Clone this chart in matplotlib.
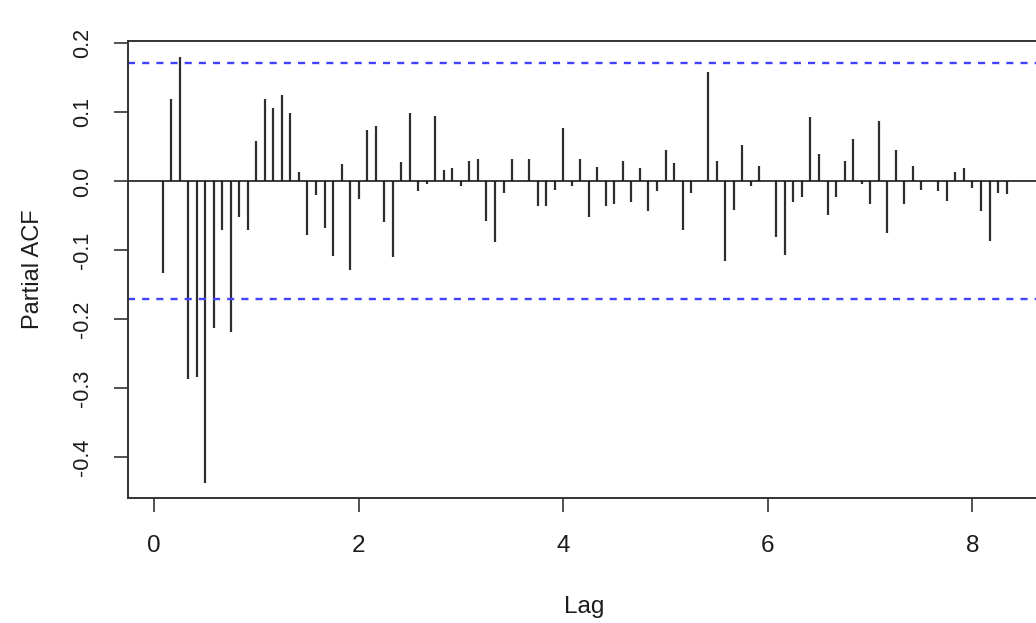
import numpy as np
import matplotlib
matplotlib.use("Agg")
import matplotlib.pyplot as plt

# Partial autocorrelations for lags 1..100 (monthly series, frequency 12)
frequency = 12
pacf_values = [
    -0.133, 0.119, 0.181, -0.286, -0.284, -0.437, -0.212, -0.070, -0.218, -0.051,
    -0.070, 0.059, 0.119, 0.106, 0.125, 0.099, 0.014, -0.078, -0.020, -0.068,
    -0.108, 0.025, -0.128, -0.026, 0.074, 0.080, -0.059, -0.109, 0.028, 0.099,
    -0.014, -0.004, 0.095, 0.016, 0.019, -0.006, 0.030, 0.032, -0.057, -0.088,
    -0.017, 0.032, 0.001, 0.032, -0.035, -0.035, -0.012, 0.077, -0.006, 0.032,
    -0.051, 0.021, -0.035, -0.033, 0.030, -0.030, 0.019, -0.043, -0.014, 0.046,
    0.027, -0.070, -0.017, 0.001, 0.159, 0.030, -0.115, -0.041, 0.053, -0.006,
    0.022, 0.001, -0.080, -0.107, -0.030, -0.022, 0.093, 0.040, -0.049, -0.022,
    0.030, 0.061, -0.004, -0.033, 0.088, -0.075, 0.046, -0.033, 0.022, -0.012,
    0.001, -0.014, -0.028, 0.014, 0.019, -0.009, -0.043, -0.086, -0.017, -0.019,
]
conf_limit = 0.171
x_ticks = [0, 2, 4, 6, 8]
y_ticks = [-0.4, -0.3, -0.2, -0.1, 0.0, 0.1, 0.2]
y_ticklabels = ["-0.4", "-0.3", "-0.2", "-0.1", "0.0", "0.1", "0.2"]

lags = np.arange(1, len(pacf_values) + 1) / frequency

plt.rcParams["font.family"] = ["Liberation Sans", "DejaVu Sans"]
W, H = 1036, 623
fig = plt.figure(figsize=(W / 100, H / 100), dpi=100)
ax = fig.add_axes([128 / W, 1 - 498 / H, 912 / W, 457 / H])

ink = "#1c1c1c"
ax.vlines(lags, 0, pacf_values, colors="#2e2e2e", linewidth=1.6)
ax.axhline(0, color="#1a1a1a", linewidth=1.2)
for c in (conf_limit, -conf_limit):
    ax.axhline(c, color="#4141ff", linewidth=1.7, linestyle=(0, (3.0, 3.0)))

ax.set_xlim(-0.254, 8.66)
ax.set_ylim(-0.459, 0.2035)

ax.set_xticks(x_ticks)
ax.set_xticklabels([str(t) for t in x_ticks])
ax.set_yticks(y_ticks)
ax.set_yticklabels(y_ticklabels, rotation=90, va="center")

ax.tick_params(axis="both", direction="out", length=10, width=1.2, color="#333333",
               labelcolor=ink)
ax.tick_params(axis="y", labelsize=15.5, pad=15)
ax.tick_params(axis="x", labelsize=17.5, pad=17)

for s in ax.spines.values():
    s.set_color("#333333")
    s.set_linewidth(1.4)

ax.set_xlabel("Lag", fontsize=17.5, color=ink, labelpad=28)
ax.set_ylabel("Partial ACF", fontsize=17, color=ink, labelpad=20)

fig.savefig("out.png", dpi=100)
